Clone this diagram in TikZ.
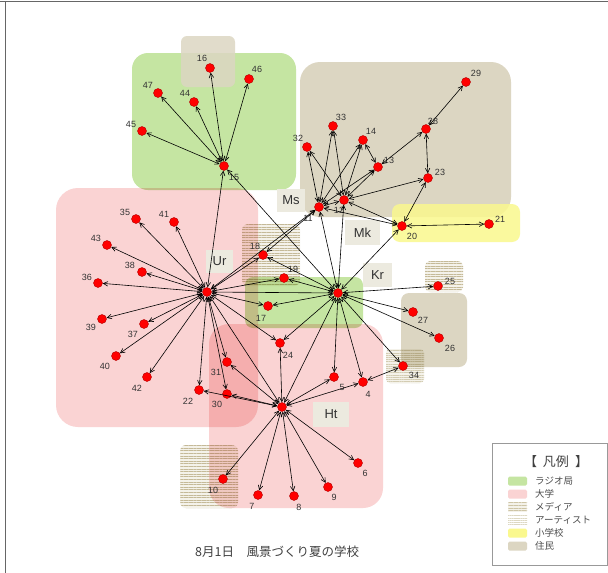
\documentclass[tikz,border=0pt]{standalone}
\usepackage{fontspec}
\setmainfont{Liberation Sans}
\newfontfamily\jp{Noto Sans CJK JP}
\usetikzlibrary{arrows.meta,patterns.meta}
\definecolor{grn}{HTML}{C5E5A2}
\definecolor{pnk}{HTML}{FAD3D3}
\definecolor{rsd}{HTML}{DCD6C2}
\definecolor{ylw}{HTML}{FAF88E}
\definecolor{tagbg}{HTML}{ECEADF}
\definecolor{medbg}{HTML}{F4F2EA}
\definecolor{strp}{HTML}{CEC5A6}
\definecolor{artl}{HTML}{DDD8C2}
\tikzset{
  vtx/.style={circle,fill=red,draw=red!70!black,line width=0.4pt,minimum size=9pt,inner sep=0pt},
  num/.style={font=\fontsize{9}{10}\selectfont,text=black!80,inner sep=0pt},
  tag/.style={fill=tagbg,font=\fontsize{13}{14}\selectfont,text=black!80,inner sep=0pt},
  lnk/.style={{Straight Barb[length=4.5pt,width=4.5pt]}-{Straight Barb[length=4.5pt,width=4.5pt]},line width=0.6pt,black},
  lgtxt/.style={font=\jp\fontsize{9.5}{10}\selectfont,text=black!70,anchor=west,inner sep=0pt},
}
\newcommand{\grpbox}[6]{\fill[#1,rounded corners=#6] (#2,#3) rectangle (#4,#5);}
\newcommand{\medbox}[5]{%
  \fill[medbg,rounded corners=#5] (#1,#2) rectangle (#3,#4);
  \fill[pattern={Lines[distance=2.6pt,line width=0.8pt]},pattern color=strp,rounded corners=#5] (#1,#2) rectangle (#3,#4);}
\newcommand{\artbox}[5]{%
  \fill[medbg,rounded corners=#5] (#1,#2) rectangle (#3,#4);
  \fill[pattern={Lines[distance=2.2pt,line width=0.6pt]},pattern color=artl,rounded corners=#5] (#1,#2) rectangle (#3,#4);}
\newcommand{\vx}[5]{%
  \node[vtx] (v#1) at (#2,#3) {};
  \node[num] (n#1) at (#4,#5) {#1};}
\newcommand{\hub}[3]{\node[vtx] (v#1) at (#2,#3) {};}
\newcommand{\lk}[2]{\draw[lnk] (v#1) -- (v#2);}
\newcommand{\lgitem}[3]{%
  \fill[#2,rounded corners=1.5pt] (508,#1-4.5) rectangle (527,#1+4.5);
  \node[lgtxt] at (535,#1) {#3};}
\begin{document}
\begin{tikzpicture}[x=1pt,y=-1pt]
\useasboundingbox (0,0) rectangle (608,573);
\fill[white] (0,0) rectangle (608,573);
% groups
\begin{scope}[blend mode=multiply]
\grpbox{grn}{132}{53}{296}{190}{16}
\grpbox{rsd}{300}{62}{511}{217}{20}
\grpbox{pnk}{56}{188}{258}{427}{22}
\grpbox{pnk}{209}{324}{383}{508}{20}
\grpbox{grn}{245}{277}{363}{328}{8}
\grpbox{rsd}{401}{293}{467}{367}{8}
\medbox{242}{224}{300}{286}{6}
\medbox{425}{261}{463}{292}{5}
\medbox{180}{445}{238}{508}{6}
\artbox{386}{349}{424}{383}{4}
\end{scope}
\grpbox{rsd,opacity=0.85}{181}{36}{235}{87}{6}
\grpbox{ylw,opacity=0.85}{392}{204}{520}{242}{8}
% tags
\node[tag,minimum width=27pt,minimum height=23pt] (tUr) at (219.5,261.5) {Ur};
\node[tag,minimum width=28pt,minimum height=23pt] (tMs) at (291,200.5) {Ms};
\node[tag,minimum width=35pt,minimum height=25pt] (tMk) at (362.5,232.5) {Mk};
\node[tag,minimum width=29pt,minimum height=24pt] (tKr) at (377.5,275) {Kr};
\node[tag,minimum width=36pt,minimum height=25pt] (tHt) at (331,414.5) {Ht};
% vertices
\hub{1}{207}{292} \hub{2}{338}{293} \hub{3}{282}{407}
\vx{4}{363}{382}{368}{394}
\vx{5}{334}{377}{342}{387}
\vx{6}{358}{463}{365}{473}
\vx{7}{258}{495}{252}{506}
\vx{8}{294}{496}{299}{507}
\vx{9}{328}{487}{334}{497}
\vx{10}{223}{479}{213}{490}
\vx{11}{319}{207}{308}{218}
\vx{12}{344}{200}{339}{210}
\vx{13}{378}{167}{389}{160}
\vx{14}{363}{140}{371}{131}
\vx{15}{224}{166}{234}{177}
\vx{16}{210}{68}{202}{58}
\vx{17}{268}{306}{261}{318}
\vx{18}{263}{255}{255}{246}
\vx{19}{284}{278}{293}{269}
\vx{20}{402}{226}{412}{236}
\vx{21}{489}{224}{500}{219}
\vx{22}{199}{390}{188}{401}
\vx{23}{428}{178}{440}{172}
\vx{24}{280}{343}{288}{355}
\vx{25}{438}{286}{450}{281}
\vx{26}{439}{338}{450}{348}
\vx{27}{413}{312}{423}{320}
\vx{28}{426}{129}{433}{121}
\vx{29}{466}{82}{476}{73}
\vx{30}{227}{394}{217}{404}
\vx{31}{227}{362}{216}{372}
\vx{32}{307}{147}{298}{138}
\vx{33}{333}{126}{341}{117}
\vx{34}{403}{366}{414}{375}
\vx{35}{136}{219}{125}{212}
\vx{36}{98}{283}{87}{277}
\vx{37}{144}{324}{133}{334}
\vx{38}{142}{272}{130}{265}
\vx{39}{102}{319}{91}{327}
\vx{40}{116}{356}{105}{366}
\vx{41}{174}{222}{164}{214}
\vx{42}{147}{377}{137}{388}
\vx{43}{107}{245}{96}{238}
\vx{44}{194}{102}{185}{93}
\vx{45}{142}{131}{131}{124}
\vx{46}{249}{79}{257}{69}
\vx{47}{158}{93}{148}{85}
% links
\lk{1}{35}\lk{1}{41}\lk{1}{43}\lk{1}{38}\lk{1}{36}\lk{1}{39}\lk{1}{37}\lk{1}{40}\lk{1}{42}
\lk{1}{22}\lk{1}{30}\lk{1}{31}\lk{1}{18}\lk{1}{19}\lk{1}{17}\lk{1}{24}\lk{1}{15}\lk{1}{11}
\lk{1}{2}\lk{1}{3}
\lk{2}{18}\lk{2}{19}\lk{2}{17}\lk{2}{24}\lk{2}{5}\lk{2}{4}\lk{2}{34}\lk{2}{27}\lk{2}{26}\lk{2}{25}
\lk{2}{3}\lk{2}{20}\lk{2}{11}\lk{2}{12}\lk{2}{15}
\lk{3}{6}\lk{3}{9}\lk{3}{8}\lk{3}{7}\lk{3}{10}\lk{3}{5}\lk{3}{4}\lk{3}{24}\lk{3}{30}\lk{3}{22}\lk{3}{31}
\lk{15}{16}\lk{15}{46}\lk{15}{47}\lk{15}{44}\lk{15}{45}
\lk{11}{32}\lk{11}{33}\lk{11}{14}\lk{11}{13}\lk{11}{12}\lk{11}{20}\lk{11}{18}
\lk{12}{32}\lk{12}{33}\lk{12}{14}\lk{12}{13}\lk{12}{23}\lk{12}{20}
\lk{13}{14}\lk{13}{28}\lk{28}{29}\lk{28}{23}\lk{23}{20}\lk{20}{21}\lk{4}{34}
% legend
\draw[black!40,fill=white,line width=0.5pt] (492,443) rectangle (607,565);
\node[font=\jp\fontsize{13}{14}\selectfont,text=black!75] (lgT) at (556,462) {【\kern6pt凡例\kern6pt】};
\lgitem{481}{grn}{ラジオ局}
\lgitem{494}{pnk}{大学}
\fill[medbg] (508,502.5) rectangle (527,511.5);
\fill[pattern={Lines[distance=2.6pt,line width=0.8pt]},pattern color=strp] (508,502.5) rectangle (527,511.5);
\node[lgtxt] (lgM) at (535,507) {メディア};
\fill[pattern={Lines[distance=2.2pt,line width=0.6pt]},pattern color=artl] (508,515.5) rectangle (527,524.5);
\node[lgtxt] (lgA) at (535,520) {アーティスト};
\lgitem{533}{ylw}{小学校}
\lgitem{546}{rsd}{住民}
% caption
\node[font=\jp\fontsize{12.5}{14}\selectfont,text=black!75,anchor=west,inner sep=0pt] (cap) at (195,552) {8月1日　風景づくり夏の学校};
% frame
\draw[black!60,line width=1pt] (0,1.5) -- (608,1.5);
\draw[black!60,line width=0.8pt] (5.5,1.5) -- (5.5,573);
\end{tikzpicture}
\end{document}
